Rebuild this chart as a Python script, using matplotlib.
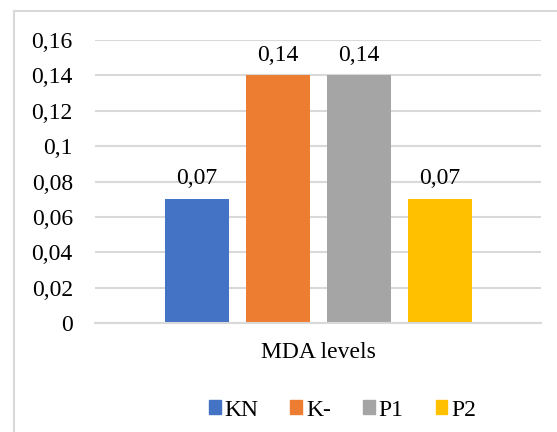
import matplotlib.pyplot as plt
import matplotlib.patches as mpatches
from matplotlib.font_manager import FontProperties
import numpy as np

plt.rcParams["font.family"] = "serif"
plt.rcParams["font.serif"] = ["Liberation Serif", "DejaVu Serif"]

# MDA levels per group
category = "MDA levels"
groups = ["KN", "K-", "P1", "P2"]
values = [0.07, 0.14, 0.14, 0.07]
labels = ["0,07", "0,14", "0,14", "0,07"]
colors = ["#4472C4", "#ED7D31", "#A5A5A5", "#FFC000"]
yticks = [0, 0.02, 0.04, 0.06, 0.08, 0.1, 0.12, 0.14, 0.16]
yticklabels = ["0", "0,02", "0,04", "0,06", "0,08", "0,1", "0,12", "0,14", "0,16"]

W, H = 557, 432
FS = 17
fig = plt.figure(figsize=(W / 100, H / 100), dpi=100)

# chart frame: left and top edges inside the canvas
fig.add_artist(plt.Line2D([14 / W, 14 / W], [0, 1 - 11 / H], color="#D9D9D9", lw=1.5))
fig.add_artist(plt.Line2D([14 / W, 1], [1 - 11 / H, 1 - 11 / H], color="#D9D9D9", lw=1.5))

ax = fig.add_axes([95 / W, 1 - 323 / H, 446 / W, 283 / H])

step = 81 / 446
width = 64 / 446
xs = (np.arange(len(groups)) - (len(groups) - 1) / 2) * step
for x, v, lab, c, g in zip(xs, values, labels, colors, groups):
    ax.bar(x, v, width=width, color=c, label=g, zorder=3)
    ax.text(x, v + 0.0055, lab, ha="center", va="bottom", fontsize=FS,
            family="Liberation Serif")

ax.set_xlim(-0.5, 0.5)
ax.set_ylim(0, 0.16)
ax.set_yticks(yticks)
ax.set_yticklabels(yticklabels, fontsize=FS, family="Liberation Serif")
ax.set_xticks([0])
ax.set_xticklabels([category], fontsize=FS, family="Liberation Serif")
ax.tick_params(axis="both", length=0)
ax.tick_params(axis="y", pad=16)
ax.tick_params(axis="x", pad=14)
ax.grid(axis="y", color="#D9D9D9", linewidth=1.5, zorder=0)
for s in ["top", "right", "left"]:
    ax.spines[s].set_visible(False)
ax.spines["bottom"].set_color("#D9D9D9")
ax.spines["bottom"].set_linewidth(1.5)
ax.spines["bottom"].set_zorder(4)

handles = [mpatches.Patch(color=c) for c in colors]
fig.legend(handles, groups, loc="center", bbox_to_anchor=(0.615, 1 - 410 / H),
           ncol=4, frameon=False,
           prop=FontProperties(family="Liberation Serif", size=FS),
           handlelength=0.5, handleheight=0.5, handletextpad=0.17,
           columnspacing=1.35)

fig.savefig("out.png", dpi=100)
